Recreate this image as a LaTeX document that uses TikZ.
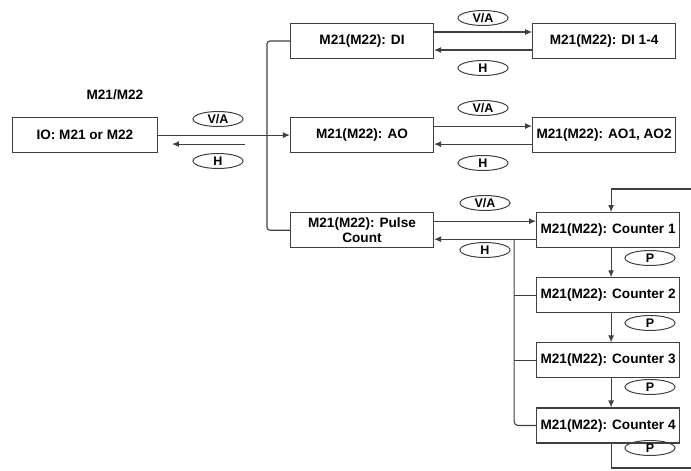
\documentclass[tikz,border=0pt]{standalone}
\usepackage{fontspec}
\setmainfont{Liberation Sans}
\usetikzlibrary{arrows.meta,positioning,shapes.geometric}

\begin{document}
\begin{tikzpicture}[
    x=1pt, y=-1pt,
    box/.style={draw=black!75, line width=1.1pt, align=center,
                font=\bfseries\fontsize{13.6}{15}\selectfont,
                minimum width=143pt, minimum height=35pt, inner sep=2pt},
    tag/.style={draw=black!75, line width=1pt, ellipse,
                font=\bfseries\fontsize{12.5}{12}\selectfont,
                minimum width=50pt, minimum height=15pt, inner sep=0pt},
    wire/.style={draw=black!75, line width=1.1pt},
    arrow/.style={wire, -{Latex[length=7pt,width=6pt]}}
  ]
    \useasboundingbox (0,0) rectangle (691,471);

    \node[box] (di) at (362,41) {M21(M22): DI};
    \node[box, below=58pt of di] (ao) {M21(M22): AO};
    \node[box, below=59pt of ao] (pc) {M21(M22): Pulse\\Count};
    \node[box, minimum width=145pt, left=132pt of ao] (io) {IO: M21 or M22};
    \node[font=\bfseries\fontsize{13.6}{15}\selectfont, above=14pt of io.north, xshift=30pt] (title) {M21/M22};
    \node[box, right=98pt of di] (dio) {M21(M22): DI 1-4};
    \node[box, right=98pt of ao] (aoo) {M21(M22): AO1, AO2};
    \node[box, right=102pt of pc] (cnt1) {M21(M22): Counter 1};
    \node[box, below=29pt of cnt1] (cnt2) {M21(M22): Counter 2};
    \node[box, below=29pt of cnt2] (cnt3) {M21(M22): Counter 3};
    \node[box, below=29pt of cnt3] (cnt4) {M21(M22): Counter 4};

    % fork from the IO box
    \coordinate (fork) at ([xshift=-23pt]ao.west);
    \draw[wire] (io.east) -- (fork);
    \draw[wire, rounded corners=3pt] (di.west) -| (fork) |- (pc.west);
    \draw[arrow] (fork) -- (ao.west);
    \coordinate (iohin) at ([xshift=87pt,yshift=-9pt]io.east);
    \draw[arrow] (iohin) -- ([xshift=14pt,yshift=-9pt]io.east);

    % rows
    \draw[arrow] ([yshift=9pt]di.east) -- ([yshift=9pt]dio.west);
    \draw[arrow] ([yshift=-9pt]dio.west) -- ([yshift=-9pt]di.east);
    \draw[arrow] ([yshift=9pt]ao.east) -- ([yshift=9pt]aoo.west);
    \draw[arrow] ([yshift=-9pt]aoo.west) -- ([yshift=-9pt]ao.east);
    \draw[arrow] ([yshift=9pt]pc.east) -- ([yshift=9pt]cnt1.west);
    \draw[arrow] ([yshift=-9pt]cnt1.west) -- ([yshift=-9pt]pc.east);

    % counters
    \draw[wire, rounded corners=4pt] ([xshift=-22pt,yshift=-9pt]cnt1.west) |- (cnt4.west);
    \draw[wire] ([xshift=-22pt]cnt2.west) -- (cnt2.west);
    \draw[wire] ([xshift=-22pt]cnt3.west) -- (cnt3.west);
    \draw[arrow] ([xshift=3pt]cnt1.south) -- ([xshift=3pt]cnt2.north);
    \draw[arrow] ([xshift=3pt]cnt2.south) -- ([xshift=3pt]cnt3.north);
    \draw[arrow] ([xshift=3pt]cnt3.south) -- ([xshift=3pt]cnt4.north);
    \coordinate (loopin) at (691,189);
    \coordinate (loopout) at (691,468);
    \draw[arrow] (loopin) -| ([xshift=3pt]cnt1.north);
    \draw[wire] ([xshift=3pt]cnt4.south) |- (loopout);

    % labels
    \node[tag] (va0) at (218,119) {V/A};
    \node[tag] (h0) at (218,161) {H};
    \node[tag] (va1) at (483,18) {V/A};
    \node[tag] (h1) at (483,68) {H};
    \node[tag] (va2) at (483,108) {V/A};
    \node[tag] (h2) at (483,163) {H};
    \node[tag] (va3) at (485,203) {V/A};
    \node[tag] (h3) at (485,250) {H};
    \node[tag] (p1) at (650,258) {P};
    \node[tag] (p2) at (650,323) {P};
    \node[tag] (p3) at (650,387) {P};
    \node[tag] (p4) at (650,448) {P};
\end{tikzpicture}
\end{document}
